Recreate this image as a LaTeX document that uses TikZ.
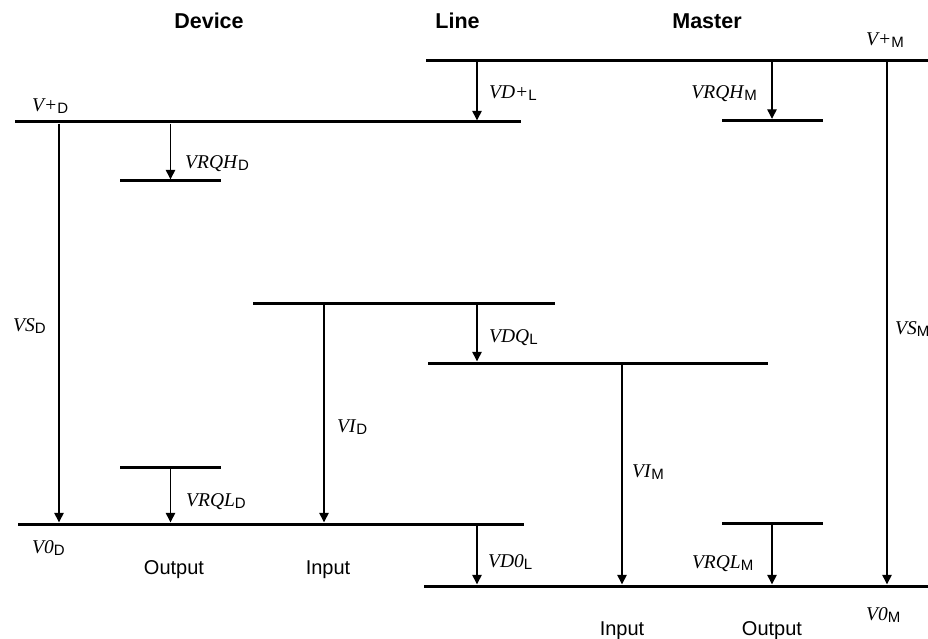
\documentclass[tikz,border=0pt]{standalone}
\usepackage{fontspec}
\setmainfont{Liberation Serif}
\setsansfont{Liberation Sans}
\usetikzlibrary{arrows.meta, positioning}

\newcommand{\sig}[2]{\textit{#1}\raisebox{-2pt}{\sffamily\fontsize{15}{15}\selectfont #2}}

\begin{document}
\begin{tikzpicture}[
        x=1pt, y=-1pt,
        bar/.style={rectangle, fill=black, inner sep=0pt, minimum height=3pt},
        arrow/.style={-{Triangle[length=9.5pt, width=9.5pt]}, line width=1.3pt},
        lbl/.style={inner sep=0pt, anchor=base west, font=\fontsize{19.5}{20}\selectfont},
        head/.style={inner sep=0pt, anchor=base, font=\sffamily\bfseries\fontsize{21.5}{22}\selectfont},
        side/.style={inner sep=0pt, anchor=base, font=\sffamily\fontsize{20}{22}\selectfont}
    ]
    \useasboundingbox (0,0) rectangle (928,639);

    % Bars
    \node[bar, minimum width=502pt] (vpm) at (677,60.5) {};
    \node[bar, minimum width=506pt] (vpd) at (268,122) {};
    \node[bar, minimum width=101pt] (rqhd) at (170.5,181) {};
    \node[bar, minimum width=101pt] (rqhm) at (772,120.5) {};
    \node[bar, minimum width=302pt] (vid) at (404,303) {};
    \node[bar, minimum width=340pt] (vlq) at (598,363) {};
    \node[bar, minimum width=101pt] (rqld) at (170.5,467) {};
    \node[bar, minimum width=506pt] (v0d) at (271,524) {};
    \node[bar, minimum width=101pt] (rqlm) at (772,523.5) {};
    \node[bar, minimum width=504pt] (v0m) at (676,586) {};

    % Arrow columns
    \coordinate (xvsd) at (59,0);
    \coordinate (xvid) at (324,0);
    \coordinate (xvdl) at (477,0);
    \coordinate (xvim) at (622,0);
    \coordinate (xvsm) at (887,0);

    % Arrows
    \draw[arrow] (vpd.south -| xvsd) -- (v0d.north -| xvsd);
    \draw[arrow] (vpd.south -| rqhd) -- (rqhd.north);
    \draw[arrow] (rqld.south) -- (v0d.north -| rqld);
    \draw[arrow] (vid.south -| xvid) -- (v0d.north -| xvid);
    \draw[arrow] (vpm.south -| xvdl) -- (vpd.north -| xvdl);
    \draw[arrow] (vid.south -| xvdl) -- (vlq.north -| xvdl);
    \draw[arrow] (v0d.south -| xvdl) -- (v0m.north -| xvdl);
    \draw[arrow] (vlq.south -| xvim) -- (v0m.north -| xvim);
    \draw[arrow] (vpm.south -| rqhm) -- (rqhm.north);
    \draw[arrow] (rqlm.south) -- (v0m.north -| rqlm);
    \draw[arrow] (vpm.south -| xvsm) -- (v0m.north -| xvsm);

    % Headings
    \node[head] (hdev) at (209,28.5) {Device};
    \node[head] (hline) at (457.5,28.5) {Line};
    \node[head] (hmas) at (707,28.5) {Master};

    % Labels
    \node[lbl] (lvpd) at (32,112) {\sig{V+}{D}};
    \node[lbl] (lrqhd) at (185,168) {\sig{VRQH}{D}};
    \node[lbl] (lvdp) at (489,99) {\sig{VD+}{L}};
    \node[lbl, anchor=base east] (lrqhm) at (757,99) {\sig{VRQH}{M}};
    \node[lbl] (lvpm) at (866,45.5) {\sig{V+}{M}};
    \node[lbl] (lvsd) at (13,331) {\sig{VS}{D}};
    \node[lbl] (lvsm) at (895,334) {\sig{VS}{M}};
    \node[lbl] (lvdq) at (489,342) {\sig{VDQ}{L}};
    \node[lbl] (lvid) at (337,432) {\sig{VI}{D}};
    \node[lbl] (lvim) at (632,477) {\sig{VI}{M}};
    \node[lbl] (lrqld) at (186,506) {\sig{VRQL}{D}};
    \node[lbl] (lv0d) at (32,553) {\sig{V0}{D}};
    \node[lbl] (lvd0) at (488,567) {\sig{VD0}{L}};
    \node[lbl, anchor=base east] (lrqlm) at (753.5,568) {\sig{VRQL}{M}};
    \node[lbl] (lv0m) at (866,620) {\sig{V0}{M}};

    % Sides
    \node[side] (outd) at (174,574) {Output};
    \node[side] (ind) at (328,574) {Input};
    \node[side] (inm) at (622,635) {Input};
    \node[side] (outm) at (772,635) {Output};

\end{tikzpicture}
\end{document}
